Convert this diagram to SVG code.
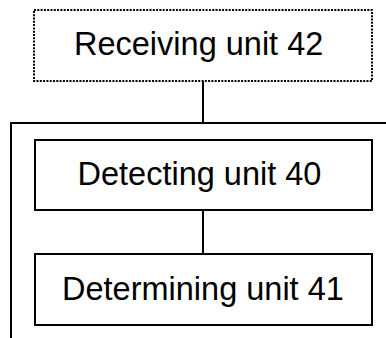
<svg xmlns="http://www.w3.org/2000/svg" width="386" height="338" viewBox="0 0 386 338">
<style>
.box{fill:#fff;stroke:#000;stroke-width:2}
.dot{stroke-dasharray:2 1.3}
.lbl{font-family:"Liberation Sans",Arial,sans-serif;font-size:32.5px;fill:#000}
.con{stroke:#000;stroke-width:2;fill:none}
</style>
<rect width="386" height="338" fill="#fff"/>
<g id="connectors">
<line class="con" x1="203" y1="81" x2="203" y2="123"/>
<polyline class="con" points="386,123 11,123 11,338"/>
<line class="con" x1="203" y1="210" x2="203" y2="254"/>
</g>
<g id="receiving">
<rect class="box dot" x="34" y="10" width="338" height="71"/>
<text class="lbl" x="74" y="55">Receiving unit 42</text>
</g>
<g id="detecting">
<rect class="box" x="35" y="140" width="337" height="70"/>
<text class="lbl" x="77.5" y="185">Detecting unit 40</text>
</g>
<g id="determining">
<rect class="box" x="35" y="254" width="337" height="71"/>
<text class="lbl" x="62" y="299.5">Determining unit 41</text>
</g>
</svg>
